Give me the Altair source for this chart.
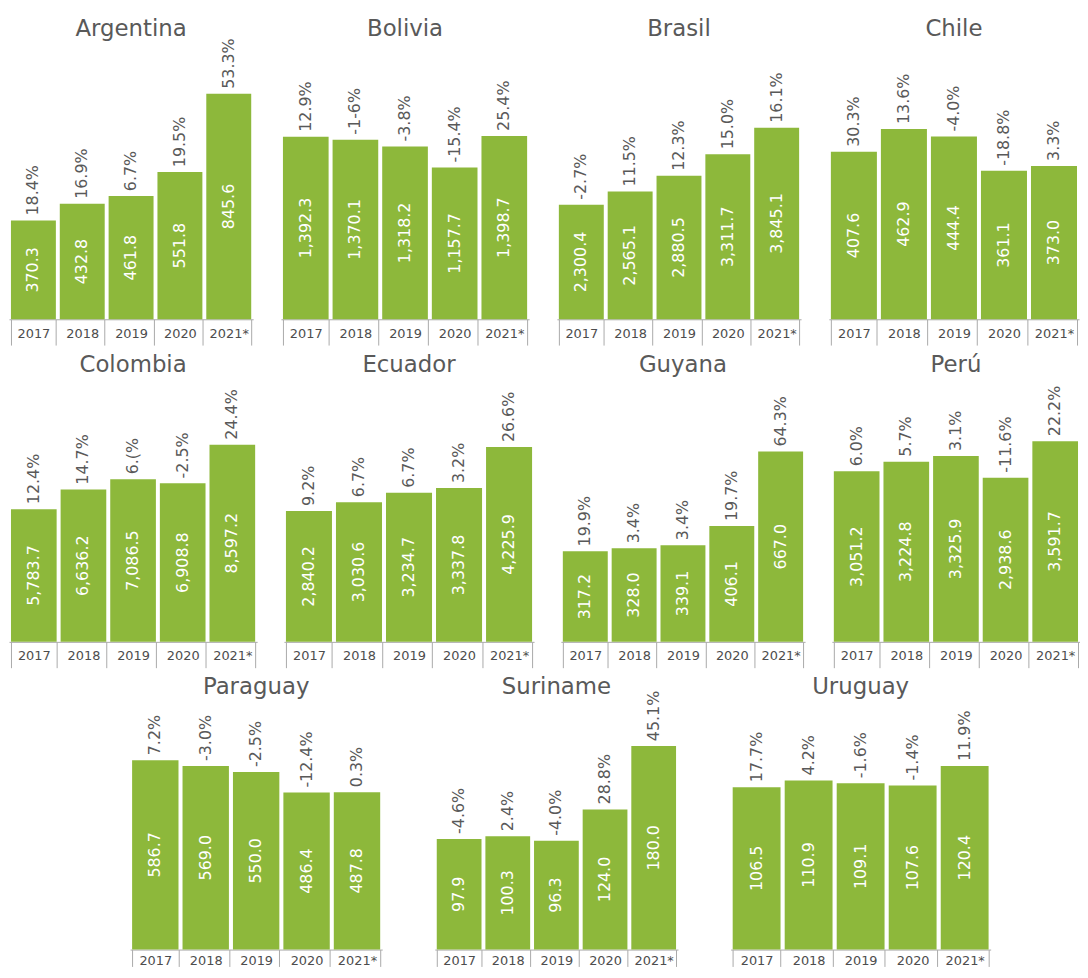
import altair as alt
import pandas as pd

FONT = "DejaVu Sans"
GREEN = "#8DB83B"
TXT = "#595959"
LINE = "#a9a9a9"

years = ["2017", "2018", "2019", "2020", "2021*"]

countries = ["Argentina", "Bolivia", "Brasil", "Chile",
             "Colombia", "Ecuador", "Guyana", "Perú",
             "Paraguay", "Suriname", "Uruguay"]

argentina_val = [370.3, 432.8, 461.8, 551.8, 845.6]
argentina_pct = ["18.4%", "16.9%", "6.7%", "19.5%", "53.3%"]
bolivia_val = [1392.3, 1370.1, 1318.2, 1157.7, 1398.7]
bolivia_pct = ["12.9%", "-1-6%", "-3.8%", "-15.4%", "25.4%"]
brasil_val = [2300.4, 2565.1, 2880.5, 3311.7, 3845.1]
brasil_pct = ["-2.7%", "11.5%", "12.3%", "15.0%", "16.1%"]
chile_val = [407.6, 462.9, 444.4, 361.1, 373.0]
chile_pct = ["30.3%", "13.6%", "-4.0%", "-18.8%", "3.3%"]
colombia_val = [5783.7, 6636.2, 7086.5, 6908.8, 8597.2]
colombia_pct = ["12.4%", "14.7%", "6.(%", "-2.5%", "24.4%"]
ecuador_val = [2840.2, 3030.6, 3234.7, 3337.8, 4225.9]
ecuador_pct = ["9.2%", "6.7%", "6.7%", "3.2%", "26.6%"]
guyana_val = [317.2, 328.0, 339.1, 406.1, 667.0]
guyana_pct = ["19.9%", "3.4%", "3.4%", "19.7%", "64.3%"]
peru_val = [3051.2, 3224.8, 3325.9, 2938.6, 3591.7]
peru_pct = ["6.0%", "5.7%", "3.1%", "-11.6%", "22.2%"]
paraguay_val = [586.7, 569.0, 550.0, 486.4, 487.8]
paraguay_pct = ["7.2%", "-3.0%", "-2.5%", "-12.4%", "0.3%"]
suriname_val = [97.9, 100.3, 96.3, 124.0, 180.0]
suriname_pct = ["-4.6%", "2.4%", "-4.0%", "28.8%", "45.1%"]
uruguay_val = [106.5, 110.9, 109.1, 107.6, 120.4]
uruguay_pct = ["17.7%", "4.2%", "-1.6%", "-1.4%", "11.9%"]

# y-scale upper bound of each panel (scale setting)
y_max = {"Argentina": 1042, "Bolivia": 2120, "Brasil": 5580, "Chile": 676,
         "Colombia": 11552, "Ecuador": 5750, "Guyana": 929, "Perú": 4742,
         "Paraguay": 775, "Suriname": 221.3, "Uruguay": 164.0}

series = {
    "Argentina": (argentina_val, argentina_pct),
    "Bolivia": (bolivia_val, bolivia_pct),
    "Brasil": (brasil_val, brasil_pct),
    "Chile": (chile_val, chile_pct),
    "Colombia": (colombia_val, colombia_pct),
    "Ecuador": (ecuador_val, ecuador_pct),
    "Guyana": (guyana_val, guyana_pct),
    "Perú": (peru_val, peru_pct),
    "Paraguay": (paraguay_val, paraguay_pct),
    "Suriname": (suriname_val, suriname_pct),
    "Uruguay": (uruguay_val, uruguay_pct),
}


def panel(name, width, height, tick, label_pos):
    vals, pcts = series[name]
    df = pd.DataFrame({"year": years, "value": vals, "pct": pcts})
    base = alt.Chart(df)
    x = alt.X("year:N", sort=years,
              scale=alt.Scale(paddingInner=0.08, paddingOuter=0.04),
              axis=alt.Axis(title=None, labelAngle=0, domainColor=LINE,
                            tickColor=LINE, tickSize=tick, tickBand="extent",
                            labelPadding=label_pos - tick, labelFontSize=13,
                            labelColor="#4d4d4d", labelFont=FONT, grid=False))
    yscale = alt.Scale(domain=[0, y_max[name]], nice=False, zero=True)
    bars = base.mark_bar(color=GREEN).encode(
        x=x, y=alt.Y("value:Q", scale=yscale, axis=None))
    vlab = base.transform_calculate(mid="datum.value / 2").mark_text(
        angle=270, color="white", fontSize=16, font=FONT,
        align="center", baseline="middle").encode(
        x=x, y=alt.Y("mid:Q", scale=yscale, axis=None),
        text=alt.Text("value:Q", format=",.1f"))
    plab = base.mark_text(
        angle=270, color=TXT, fontSize=16, font=FONT,
        align="left", baseline="middle", dx=5).encode(
        x=x, y=alt.Y("value:Q", scale=yscale, axis=None), text="pct:N")
    title = alt.Chart(pd.DataFrame({"name": [name]})).mark_text(
        fontSize=23, font=FONT, color=TXT, align="center",
        baseline="alphabetic", dy=-5).encode(
        x=alt.value(width / 2), y=alt.value(0), text="name:N")
    return alt.layer(bars, vlab, plab, title).properties(width=width, height=height)


H1, H2, H3 = 280, 267, 252

row1 = alt.hconcat(
    panel("Argentina", 246, H1, 26, 8),
    panel("Bolivia", 250, H1, 26, 8),
    panel("Brasil", 246, H1, 26, 8),
    panel("Chile", 252, H1, 26, 8),
    spacing=28)

row2 = alt.hconcat(
    panel("Colombia", 250, H2, 26, 8),
    panel("Ecuador", 252, H2, 26, 8),
    panel("Guyana", 246, H2, 26, 8),
    panel("Perú", 250, H2, 26, 8),
    spacing=27)

spacer = alt.Chart(pd.DataFrame({"s": [0]})).mark_point(size=0, opacity=0).encode(
    x=alt.value(0), y=alt.value(0)).properties(width=69, height=H3)

row3 = alt.hconcat(
    spacer,
    panel("Paraguay", 254, H3, 17, 5),
    panel("Suriname", 245, H3, 17, 5),
    panel("Uruguay", 262, H3, 17, 5),
    spacing=53)

chart = alt.vconcat(row1, row2, row3, spacing=8).properties(
    padding={"left": 1, "top": 7, "right": 0, "bottom": 0}
).configure_view(stroke=None)

chart.save("out.html", embed_options={"renderer": "svg", "actions": False})
